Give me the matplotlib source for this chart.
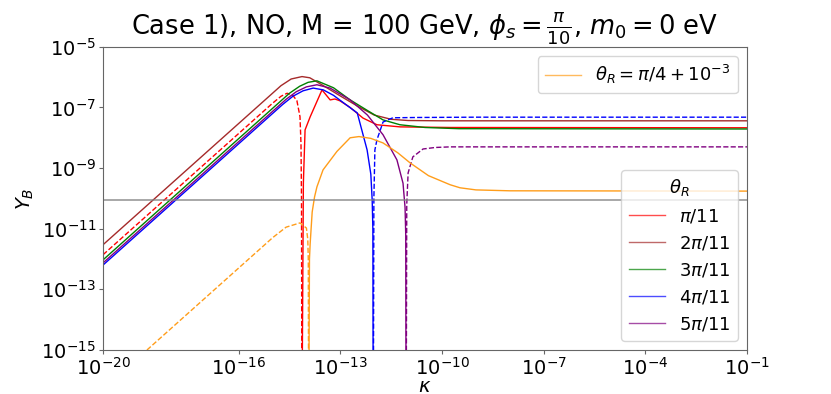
import numpy as np
import matplotlib
matplotlib.use("Agg")
import matplotlib.pyplot as plt
from matplotlib.lines import Line2D

# log10(kappa), log10(Y_B)
# solid = positive Y_B, dashed = negative Y_B (plotted as |Y_B|)
red_neg_k = [-20, -15.0, -14.75, -14.57, -14.4, -14.28, -14.19, -14.16, -14.145, -14.135]
red_neg_y = [-11.86, -6.86, -6.63, -6.53, -6.6, -6.78, -7.3, -8.2, -10.0, -17]
red_pos_k = [-14.13, -14.09, -14.04, -13.89, -13.54, -13.3, -13.16, -13.01, -12.71, -12.33, -11.92, -11.24, -9.76, -1]
red_pos_y = [-17, -9.5, -7.74, -7.31, -6.42, -6.75, -6.72, -6.78, -7.0, -7.35, -7.57, -7.64, -7.66, -7.67]

brown_k = [-20, -14.75, -14.45, -14.13, -13.9, -13.5, -13.0, -12.5, -12.0, -11.5, -11.0, -10.0, -1]
brown_y = [-11.53, -6.28, -6.06, -5.98, -6.02, -6.28, -6.62, -6.95, -7.25, -7.39, -7.43, -7.44, -7.44]

green_k = [-20, -14.5, -14.2, -13.95, -13.69, -13.2, -12.71, -12.2, -11.74, -11.24, -10.5, -9.5, -1]
green_y = [-12.03, -6.53, -6.3, -6.17, -6.12, -6.35, -6.75, -7.1, -7.41, -7.57, -7.66, -7.7, -7.71]

blue_pos_k = [-20, -14.7, -14.4, -14.1, -13.8, -13.5, -13.2, -12.9, -12.5, -12.21, -12.1, -12.06, -12.04, -12.03]
blue_pos_y = [-12.2, -6.9, -6.63, -6.45, -6.36, -6.42, -6.6, -6.85, -7.18, -8.4, -9.2, -10.05, -11.0, -17]
blue_neg_k = [-12.025, -12.01, -11.98, -11.92, -11.74, -11.45, -10.74, -9.0, -1]
blue_neg_y = [-17, -10.0, -8.4, -8.07, -7.48, -7.34, -7.33, -7.32, -7.32]

purple_pos_k = [-20, -14.6, -14.3, -14.0, -13.69, -13.3, -12.71, -12.2, -11.74, -11.33, -11.15, -11.09, -11.07, -11.06]
purple_pos_y = [-12.13, -6.73, -6.48, -6.32, -6.25, -6.36, -6.75, -7.25, -7.9, -8.73, -9.5, -10.3, -11.2, -17]
purple_neg_k = [-11.055, -11.04, -11.0, -10.86, -10.56, -10.2, -9.76, -8.0, -1]
purple_neg_y = [-17, -10.2, -9.16, -8.63, -8.37, -8.32, -8.3, -8.3, -8.3]

orange_neg_k = [-20, -15.0, -14.6, -14.19, -14.0, -13.96, -13.945, -13.935]
orange_neg_y = [-16.3, -11.3, -10.95, -10.81, -10.98, -11.35, -12.0, -17]
orange_pos_k = [-13.93, -13.91, -13.89, -13.83, -13.76, -13.69, -13.51, -13.1, -12.71, -12.45, -12.1, -11.74, -11.3, -10.94, -10.4, -9.76, -9.47, -9.0, -8.0, -1]
orange_pos_y = [-17, -12.0, -11.5, -10.45, -9.95, -9.62, -9.06, -8.45, -8.0, -7.96, -8.02, -8.17, -8.5, -8.83, -9.25, -9.55, -9.65, -9.72, -9.75, -9.76]

Y_obs = 8.7e-11

labels = [r"$\pi/11$", r"$2\pi/11$", r"$3\pi/11$", r"$4\pi/11$", r"$5\pi/11$"]
colors = ["red", "brown", "green", "blue", "purple"]
orange = "#ff9d1a"

fig = plt.figure(figsize=(8.31, 3.94), dpi=100)
ax = fig.add_axes([0.124, 0.112, 0.775, 0.769])

def p(k, y, c, ls="-"):
    ax.plot(10.0 ** np.array(k), 10.0 ** np.array(y), color=c, ls=ls, lw=1.0)

p(red_neg_k, red_neg_y, "red", "--")
p(red_pos_k, red_pos_y, "red")
p(brown_k, brown_y, "brown")
p(green_k, green_y, "green")
p(blue_pos_k, blue_pos_y, "blue")
p(blue_neg_k, blue_neg_y, "blue", "--")
p(purple_pos_k, purple_pos_y, "purple")
p(purple_neg_k, purple_neg_y, "purple", "--")
p(orange_neg_k, orange_neg_y, orange, "--")
p(orange_pos_k, orange_pos_y, orange)

ax.axhline(Y_obs, color="gray", lw=1.2, alpha=0.8)

ax.set_xscale("log")
ax.set_yscale("log")
ax.set_xlim(1e-20, 1e-1)
ax.set_ylim(1e-15, 1e-5)
ax.set_xticks([1e-20, 1e-16, 1e-13, 1e-10, 1e-7, 1e-4, 1e-1])
ax.set_yticks([1e-15, 1e-13, 1e-11, 1e-9, 1e-7, 1e-5])
ax.minorticks_off()
ax.tick_params(labelsize=14, length=3, color="0.4", pad=2)
for s in ax.spines.values():
    s.set_color("0.4")

ax.set_xlabel(r"$\kappa$", fontsize=14, labelpad=-1.5)
ax.set_ylabel(r"$Y_B$", fontsize=14)
ax.set_title(r"Case 1), NO, M = 100 GeV, $\phi_s = \frac{\pi}{10}$, $m_0 = 0$ eV", fontsize=18.5)

h1 = [Line2D([], [], color=orange, lw=1.0, alpha=0.7)]
leg1 = ax.legend(h1, [r"$\theta_R = \pi/4 + 10^{-3}$"], loc="upper right", fontsize=13)
ax.add_artist(leg1)
h2 = [Line2D([], [], color=c, lw=1.0, alpha=0.7) for c in colors]
ax.legend(h2, labels, title=r"$\theta_R$", loc="lower right", fontsize=13, title_fontsize=13)

fig.savefig("out.png", dpi=100)
